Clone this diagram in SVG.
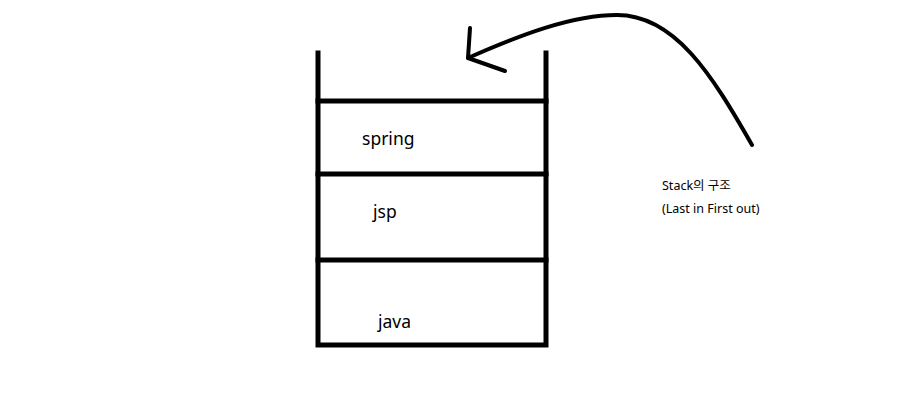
<svg xmlns="http://www.w3.org/2000/svg" width="919" height="405" viewBox="0 0 919 405">
<style>
.ln{stroke:#000;stroke-width:5;fill:none;stroke-linecap:square}
.cv{stroke:#000;stroke-width:4;fill:none;stroke-linecap:round;stroke-linejoin:round}
.lbl{font-family:"Noto Sans","Noto Sans CJK KR",sans-serif;font-size:17.5px;fill:#000}
.note{font-family:"Noto Sans","Noto Sans CJK KR",sans-serif;font-size:12.5px;fill:#000}
</style>
<rect width="919" height="405" fill="#fff"/>
<g id="stack">
<path class="ln" d="M318,53 V345 H546 V53"/>
<line class="ln" x1="318" y1="101" x2="546" y2="101"/>
<line class="ln" x1="318" y1="174" x2="546" y2="174"/>
<line class="ln" x1="318" y1="260" x2="546" y2="260"/>
</g>
<g id="spring"><text class="lbl" x="362" y="145">spring</text></g>
<g id="jsp"><text class="lbl" x="373" y="218">jsp</text></g>
<g id="java"><text class="lbl" x="378" y="328">java</text></g>
<g id="connectors">
<path class="cv" d="M752,145 C712,75 675,15 617,15 C572,15 520,35 468,58"/>
<path class="cv" d="M470,28 L468,58 L505,71"/>
</g>
<g id="note">
<text class="note" x="662" y="190">Stack의 구조</text>
<text class="note" x="662" y="213">(Last in First out)</text>
</g>
</svg>
